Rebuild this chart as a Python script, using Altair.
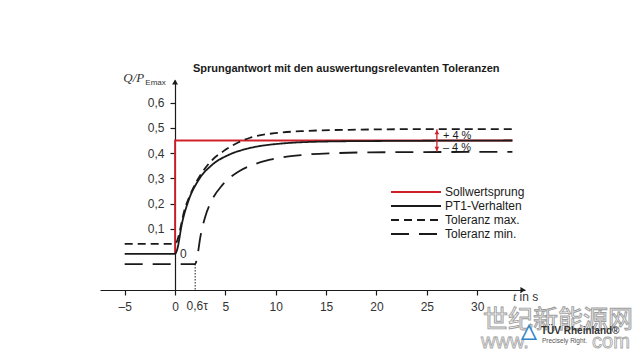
import altair as alt
import pandas as pd

FONT = "Liberation Sans"
BLACK = "#1a1a1a"
RED = "#d0202a"

# ---- data ----
series_names = ["Sollwertsprung", "PT1-Verhalten", "Toleranz max.", "Toleranz min."]
series_colors = [RED, BLACK, BLACK, BLACK]
series_dashes = [[1, 0], [1, 0], [8, 5], [18, 10]]

t_soll = [0, 0, 33.5]
y_soll = [0.0, 0.45, 0.45]

t_pt1 = [-5, 0, 0.2, 0.7, 1.36, 2.35, 3.67, 5.33, 7.32, 10.3, 15, 20, 25, 33.5]
y_pt1 = [0.0, 0.0, 0.016, 0.123, 0.214, 0.294, 0.353, 0.393, 0.419, 0.437, 0.446, 0.448, 0.449, 0.45]

t_max = [-5, 0, 1.02, 2.02, 3.35, 5.0, 6.32, 7.45, 10.4, 13.1, 18, 24, 33.5]
y_max = [0.04, 0.04, 0.185, 0.278, 0.358, 0.413, 0.443, 0.461, 0.481, 0.488, 0.493, 0.495, 0.495]

t_min = [-5, 2.0, 2.18, 2.52, 3.0, 3.67, 4.67, 5.5, 6.32, 7.97, 9.43, 12.7, 16.0, 19.4, 33.5]
y_min = [-0.04, -0.04, -0.017, 0.069, 0.148, 0.214, 0.272, 0.304, 0.327, 0.357, 0.374, 0.393, 0.400, 0.403, 0.405]

x_ticks = [-5, 0, 5, 10, 15, 20, 25, 30]
y_ticks = [0.1, 0.2, 0.3, 0.4, 0.5, 0.6]

dead_time_t = 2.0
tol_arrow_t = 26
tol_hi, tol_lo = 0.495, 0.405

# ---- tables ----
def frame(name, ts, ys):
    return pd.DataFrame({"t": ts, "y": ys, "series": [name] * len(ts)})

red_df = frame(series_names[0], t_soll, y_soll)
black_df = pd.concat([
    frame(series_names[1], t_pt1, y_pt1),
    frame(series_names[2], t_max, y_max),
    frame(series_names[3], t_min, y_min),
])

X = alt.X("t:Q",
          scale=alt.Scale(domain=[-7.45, 34.75], nice=False, zero=False),
          axis=alt.Axis(values=x_ticks, title=None, grid=False, domainColor=BLACK,
                        domainWidth=1.2, tickColor=BLACK, tickSize=5, tickWidth=1.2,
                        labelFont=FONT, labelFontSize=12, labelColor="#333",
                        labelPadding=6,
                        labelExpr="datum.value < 0 ? '–' + abs(datum.value) : '' + datum.value"))
Y = alt.Y("y:Q",
          scale=alt.Scale(domain=[-0.143, 0.69], nice=False, zero=False),
          axis=alt.Axis(values=y_ticks, title=None, grid=False, offset=-75,
                        domainColor=BLACK, domainWidth=1.2, tickColor=BLACK, tickSize=5,
                        tickWidth=1.2, labelFont=FONT, labelFontSize=12, labelColor="#333",
                        labelPadding=6,
                        labelExpr="replace(format(datum.value, '.1f'), '.', ',')"))

legend_kw = dict(title=None, orient="none", legendX=310, legendY=106,
                 symbolType="M-5,0H5", symbolSize=100, symbolStrokeWidth=1.8,
                 labelFont=FONT, labelFontSize=12, labelColor=BLACK,
                 rowPadding=2, labelOffset=23)
color = alt.Color("series:N",
                  scale=alt.Scale(domain=series_names, range=series_colors),
                  legend=alt.Legend(**legend_kw))
dash = alt.StrokeDash("series:N",
                      scale=alt.Scale(domain=series_names, range=series_dashes),
                      legend=alt.Legend(**legend_kw))

red_layer = alt.Chart(red_df).mark_line(strokeWidth=1.8).encode(
    x=X, y=Y, color=color, strokeDash=dash)
black_layer = alt.Chart(black_df).mark_line(strokeWidth=1.8, interpolate="monotone").encode(
    x=X, y=Y, color=color, strokeDash=dash)

# dead-time dotted marker
dead_df = pd.DataFrame({"t": [dead_time_t], "y": [-0.04], "y2": [-0.143]})
dead_layer = alt.Chart(dead_df).mark_rule(color=BLACK, strokeWidth=1, strokeDash=[1.5, 1.5]).encode(
    x=X, y=Y, y2="y2:Q")

# tolerance arrow
tol_df = pd.DataFrame({"t": [tol_arrow_t], "y": [tol_lo], "y2": [tol_hi]})
tol_rule = alt.Chart(tol_df).mark_rule(color=RED, strokeWidth=1.3).encode(x=X, y=Y, y2="y2:Q")
tol_heads = pd.DataFrame({"t": [tol_arrow_t, tol_arrow_t], "y": [tol_hi, tol_lo]})
tol_up = alt.Chart(tol_heads.iloc[[0]]).mark_point(shape="triangle-up", filled=True, color=RED,
                                                   size=22, opacity=1, yOffset=3).encode(x=X, y=Y)
tol_dn = alt.Chart(tol_heads.iloc[[1]]).mark_point(shape="triangle-down", filled=True, color=RED,
                                                   size=22, opacity=1, yOffset=-3).encode(x=X, y=Y)

# axis arrow heads
arrow_x = alt.Chart(pd.DataFrame({"t": [34.75], "y": [-0.143]})).mark_point(
    shape="triangle-right", filled=True, color=BLACK, size=35, opacity=1, xOffset=-2).encode(x=X, y=Y)
arrow_y = alt.Chart(pd.DataFrame({"t": [0], "y": [0.69]})).mark_point(
    shape="triangle-up", filled=True, color=BLACK, size=35, opacity=1, yOffset=2).encode(x=X, y=Y)

# annotations (data coordinates)
def text_layer(ts, ys, labels, **kw):
    df = pd.DataFrame({"t": ts, "y": ys, "label": labels})
    return alt.Chart(df).mark_text(**kw).encode(x=X, y=Y, text="label:N")

title = text_layer([17.0], [0.734], ["Sprungantwort mit den auswertungsrelevanten Toleranzen"],
                   font=FONT, fontSize=11, fontWeight="bold", color=BLACK, align="center",
                   baseline="middle")
zero_lbl = text_layer([0.5], [0.0], ["0"], font=FONT, fontSize=12, color="#333",
                      align="left", baseline="middle")
tau_lbl = text_layer([2.2], [-0.2075], ["0,6τ"], font=FONT, fontSize=12, color="#333",
                     align="center", baseline="middle")
pct_lbl = text_layer([26.6, 26.6], [0.469, 0.422], ["+ 4 %", "– 4 %"], font=FONT,
                     fontSize=11, color=BLACK, align="left", baseline="middle")
t_it = text_layer([33.55], [-0.171], ["t"], font="Liberation Serif", fontSize=12,
                  fontStyle="italic", color="#333", align="left", baseline="middle")
t_rest = text_layer([34.2], [-0.171], ["in s"], font=FONT, fontSize=12, color="#333",
                    align="left", baseline="middle")
ylab_q = text_layer([-3.05], [0.697], ["Q/P"], font="Liberation Serif", fontSize=13,
                    fontStyle="italic", color="#333", align="right", baseline="middle")
ylab_s = text_layer([-2.95], [0.677], ["Emax"], font=FONT, fontSize=8, color="#333",
                    align="left", baseline="middle")

# watermark (pixel positions relative to plot area)
def wm(text, x, y, **kw):
    return alt.Chart(pd.DataFrame({"a": [0]})).mark_text(text=text, **kw).encode(
        x=alt.value(x), y=alt.value(y))

wm_cn = wm("世纪新能源网", 458, 240, font="Noto Sans CJK SC", fontSize=25, color="#f4f4f4",
           stroke="#9c9c9c", strokeWidth=0.9, align="center", baseline="middle")
wm_www = wm("www.", 405, 262, font=FONT, fontSize=20, color="#f4f4f4", stroke="#a5a5a5",
            strokeWidth=0.8, align="center", baseline="middle")
wm_com = wm("com", 511, 262, font=FONT, fontSize=20, color="#f4f4f4", stroke="#a5a5a5",
            strokeWidth=0.8, align="center", baseline="middle")
wm_tri = wm("▲", 429, 252, font="DejaVu Sans", fontSize=18, color="#ffffff", stroke="#2f86c8",
            strokeWidth=1.5, align="center", baseline="middle")
wm_tuv = wm("TÜV Rheinland®", 441, 251, font=FONT, fontSize=10, fontWeight="bold",
            color="#333", align="left", baseline="middle")
wm_pr = wm("Precisely Right.", 442, 261, font=FONT, fontSize=6.5, color="#555",
           align="left", baseline="middle")

chart = alt.layer(
    dead_layer, red_layer, black_layer, tol_rule, tol_up, tol_dn, arrow_x, arrow_y,
    title, zero_lbl, tau_lbl, pct_lbl, t_it, t_rest, ylab_q, ylab_s,
    wm_cn, wm_www, wm_com, wm_tri, wm_tuv, wm_pr,
).resolve_scale(color="shared", strokeDash="shared").properties(
    width=425, height=210, autosize=alt.AutoSizeParams(type="none"),
    padding={"left": 92, "top": 72, "right": 107, "bottom": 62},
    background="white",
).configure_view(stroke=None)

chart.save("out.html", embed_options={"renderer": "svg", "actions": False})
